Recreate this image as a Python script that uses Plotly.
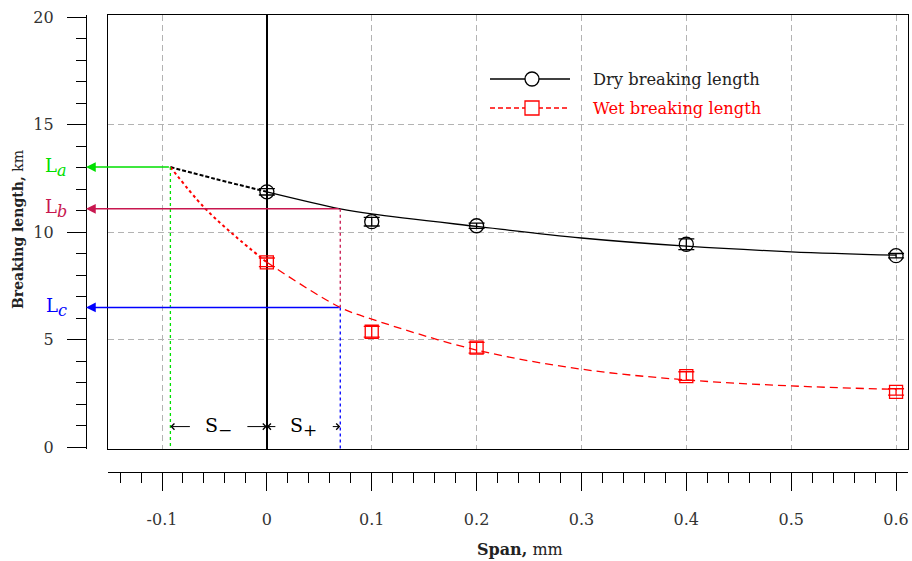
import plotly.graph_objects as go

# ---------------- data ----------------
span_pts = [0, 0.1, 0.2, 0.4, 0.6]
dry_pts = [11.87, 10.48, 10.29, 9.43, 8.90]
dry_err = [0.15, 0.2, 0.12, 0.25, 0.1]
wet_pts = [8.59, 5.36, 4.62, 3.30, 2.56]
wet_err = [0.2, 0.25, 0.25, 0.2, 0.15]

fit_span = [0, 0.07, 0.1, 0.2, 0.3, 0.4, 0.5, 0.6]
dry_fit = [11.87, 11.08, 10.84, 10.26, 9.72, 9.34, 9.08, 8.92]
wet_fit = [8.59, 6.49, 5.95, 4.51, 3.62, 3.12, 2.84, 2.68]

dry_ext_span = [-0.092, -0.05, 0]
dry_ext = [13.02, 12.48, 11.87]
wet_ext_span = [-0.092, -0.06, -0.03, 0]
wet_ext = [13.02, 11.15, 9.8, 8.59]

S_minus = -0.092
S_plus = 0.07
L_a = 13.02
L_b = 11.08
L_c = 6.49

x_tickvals = [-0.1, 0, 0.1, 0.2, 0.3, 0.4, 0.5, 0.6]
x_ticktext = ["-0.1", "0", "0.1", "0.2", "0.3", "0.4", "0.5", "0.6"]
y_tickvals = [0, 5, 10, 15, 20]
y_ticktext = ["0", "5", "10", "15", "20"]
x_gridvals = [-0.1, 0.1, 0.2, 0.3, 0.4, 0.5, 0.6]
y_gridvals = [5, 10, 15]

# ---------------- layout constants ----------------
W, H = 912, 561
ML, MR, MT, MB = 86, 4, 15, 561 - 472
PW, PH = W - ML - MR, H - MT - MB
XDOM0 = 22 / PW
YDOM0 = 23 / PH
X_RANGE = [-0.1515, 0.6114]
Y_RANGE = [-0.093, 20.093]
FONT = "DejaVu Serif"
TXT = "#333333"
GREEN = "#00e000"
CRIMSON = "#c8174f"
BLUE = "#0000ff"
RED = "#ff0000"

# data x of the detached y-axis line (left edge of plotting area)
x_axis_line = X_RANGE[0] - XDOM0 * (X_RANGE[1] - X_RANGE[0]) / (1 - XDOM0)


def px(xp):
    return (xp - ML) / PW


def py(yp):
    return (H - MB - yp) / PH


fig = go.Figure()

# fitted curves
fig.add_trace(go.Scatter(x=fit_span, y=dry_fit, mode="lines", line=dict(color="black", width=1.3, shape="spline"), showlegend=False, hoverinfo="skip"))
fig.add_trace(go.Scatter(x=dry_ext_span, y=dry_ext, mode="lines", line=dict(color="black", width=2, dash="4px,2px", shape="spline"), showlegend=False, hoverinfo="skip"))
fig.add_trace(go.Scatter(x=fit_span, y=wet_fit, mode="lines", line=dict(color=RED, width=1.3, dash="8px,5px", shape="spline"), showlegend=False, hoverinfo="skip"))
fig.add_trace(go.Scatter(x=wet_ext_span, y=wet_ext, mode="lines", line=dict(color=RED, width=2, dash="3px,3px", shape="spline"), showlegend=False, hoverinfo="skip"))

# construction lines (vertical dotted)
fig.add_trace(go.Scatter(x=[S_minus, S_minus], y=[L_a, Y_RANGE[0]], mode="lines", line=dict(color=GREEN, width=1.3, dash="dot"), showlegend=False, hoverinfo="skip"))
fig.add_trace(go.Scatter(x=[S_plus, S_plus], y=[L_b, L_c], mode="lines", line=dict(color=CRIMSON, width=1.3, dash="dot"), showlegend=False, hoverinfo="skip"))
fig.add_trace(go.Scatter(x=[S_plus, S_plus], y=[L_c, Y_RANGE[0]], mode="lines", line=dict(color=BLUE, width=1.3, dash="dot"), showlegend=False, hoverinfo="skip"))

# measured points
fig.add_trace(go.Scatter(x=span_pts, y=dry_pts, mode="markers",
                         marker=dict(symbol="circle-open", size=14, color="black", line=dict(width=1.3)),
                         error_y=dict(type="data", array=dry_err, color="black", thickness=1.3, width=8),
                         showlegend=False))
fig.add_trace(go.Scatter(x=span_pts, y=wet_pts, mode="markers",
                         marker=dict(symbol="square-open", size=13, color=RED, line=dict(width=1.3)),
                         error_y=dict(type="data", array=wet_err, color=RED, thickness=1.3, width=8),
                         showlegend=False))

# dummy trace for detached axes
fig.add_trace(go.Scatter(x=[], y=[], xaxis="x2", yaxis="y2", showlegend=False))

ann = []
# L arrows
for Lval, Sval, col in [(L_a, S_minus, GREEN), (L_b, S_plus, CRIMSON), (L_c, S_plus, BLUE)]:
    ann.append(dict(x=x_axis_line, y=Lval, xref="x", yref="y", ax=Sval, ay=Lval, axref="x", ayref="y",
                    text="", showarrow=True, arrowhead=2, arrowsize=1.3, arrowwidth=1.5, arrowcolor=col,
                    standoff=0, startstandoff=0))
for lab, Lval, col in [("a", L_a, GREEN), ("b", L_b, CRIMSON), ("c", L_c, BLUE)]:
    ann.append(dict(x=px(69), y=Lval, xref="paper", yref="y", xanchor="right", yanchor="middle",
                    text="L<sub><i><span style='font-size:16px'>%s</span></i></sub>" % lab, showarrow=False,
                    font=dict(family=FONT, size=18, color=col)))

# S labels with arrows
S_y = 0.95
ann.append(dict(x=(S_minus + 0) / 2, y=S_y, xref="x", yref="y", xanchor="center", yanchor="middle",
                text="S<sub><span style='font-size:17px'>\u2212</span></sub>", showarrow=False,
                font=dict(family=FONT, size=19, color="black")))
ann.append(dict(x=(0 + S_plus) / 2, y=S_y, xref="x", yref="y", xanchor="center", yanchor="middle",
                text="S<sub><span style='font-size:17px'>+</span></sub>", showarrow=False,
                font=dict(family=FONT, size=19, color="black")))
for tip, off in [(S_minus, 21), (0, -21), (0, 10), (S_plus, -9)]:
    ann.append(dict(x=tip, y=S_y, xref="x", yref="y", ax=off, ay=0, text="", showarrow=True,
                    arrowhead=4, arrowsize=1.2, arrowwidth=1, arrowcolor="black", standoff=0, startstandoff=0))

# axis titles
ann.append(dict(x=px(18), y=py(230), xref="paper", yref="paper", xanchor="center", yanchor="middle",
                textangle=-90, showarrow=False,
                text="<b>Breaking length,</b> km", font=dict(family=FONT, size=14, color="#222222")))
ann.append(dict(x=px(520), y=py(549), xref="paper", yref="paper", xanchor="center", yanchor="middle",
                showarrow=False,
                text="<b>Span,</b> mm", font=dict(family=FONT, size=16, color="#222222")))

# legend text
ann.append(dict(x=px(591), y=py(79), xref="paper", yref="paper", xanchor="left", yanchor="middle",
                showarrow=False,
                text="Dry breaking length", font=dict(family=FONT, size=16.3, color="#222222")))
ann.append(dict(x=px(591), y=py(108), xref="paper", yref="paper", xanchor="left", yanchor="middle",
                showarrow=False,
                text="Wet breaking length", font=dict(family=FONT, size=16.3, color=RED)))

shapes = [
    dict(type="line", xref="paper", yref="paper", x0=px(490), x1=px(570), y0=py(79), y1=py(79),
         line=dict(color="black", width=1.3)),
    dict(type="circle", xref="paper", yref="paper", xsizemode="pixel", ysizemode="pixel",
         xanchor=px(532), yanchor=py(79), x0=-7, x1=7, y0=-7, y1=7,
         line=dict(color="black", width=1.3), fillcolor="white"),
    dict(type="line", xref="paper", yref="paper", x0=px(490), x1=px(570), y0=py(108), y1=py(108),
         line=dict(color=RED, width=1.3, dash="5px,3px")),
    dict(type="rect", xref="paper", yref="paper", xsizemode="pixel", ysizemode="pixel",
         xanchor=px(532), yanchor=py(108), x0=-7, x1=7, y0=-7, y1=7,
         line=dict(color=RED, width=1.3), fillcolor="white"),
]

fig.update_layout(
    width=W, height=H, margin=dict(l=ML, r=MR, t=MT, b=MB),
    paper_bgcolor="white", plot_bgcolor="white",
    annotations=ann, shapes=shapes, showlegend=False,
    font=dict(family=FONT, color=TXT),
    xaxis=dict(domain=[XDOM0, 1], range=X_RANGE, showline=True, mirror=True, linecolor="black", linewidth=1.3,
               showgrid=True, gridcolor="#b3b3b3", gridwidth=1.3, griddash="6px,4px",
               tickmode="array", tickvals=x_gridvals, showticklabels=False, ticks="",
               zeroline=True, zerolinecolor="black", zerolinewidth=1.5),
    yaxis=dict(domain=[YDOM0, 1], range=Y_RANGE, showline=True, mirror=True, linecolor="black", linewidth=1.3,
               showgrid=True, gridcolor="#b3b3b3", gridwidth=1.3, griddash="6px,4px",
               tickmode="array", tickvals=y_gridvals, showticklabels=False, ticks="", zeroline=False),
    xaxis2=dict(overlaying="x", anchor="free", position=0, domain=[XDOM0, 1], range=X_RANGE,
                showline=True, linecolor="black", linewidth=1.3, showgrid=False, zeroline=False,
                tickmode="array", tickvals=x_tickvals, ticktext=x_ticktext, ticklabeloverflow="allow",
                ticks="outside", ticklen=18, tickwidth=1.3, tickcolor="black",
                ticklabelstandoff=15, tickfont=dict(family=FONT, size=16, color=TXT),
                minor=dict(dtick=0.02, tick0=0, ticks="outside", ticklen=10, tickwidth=1.3, tickcolor="black", showgrid=False)),
    yaxis2=dict(overlaying="y", anchor="free", position=0, domain=[YDOM0, 1], range=Y_RANGE,
                showline=True, linecolor="black", linewidth=1.3, showgrid=False, zeroline=False,
                tickmode="array", tickvals=y_tickvals, ticktext=y_ticktext, ticklabeloverflow="allow",
                ticks="outside", ticklen=19, tickwidth=1.3, tickcolor="black",
                ticklabelstandoff=10, tickfont=dict(family=FONT, size=16, color=TXT),
                minor=dict(dtick=1, tick0=0, ticks="outside", ticklen=10, tickwidth=1.3, tickcolor="black", showgrid=False)),
)

fig.write_html("out.html", config={"displayModeBar": False},
               post_script="document.body.style.margin='0';document.documentElement.style.overflow='hidden';")
